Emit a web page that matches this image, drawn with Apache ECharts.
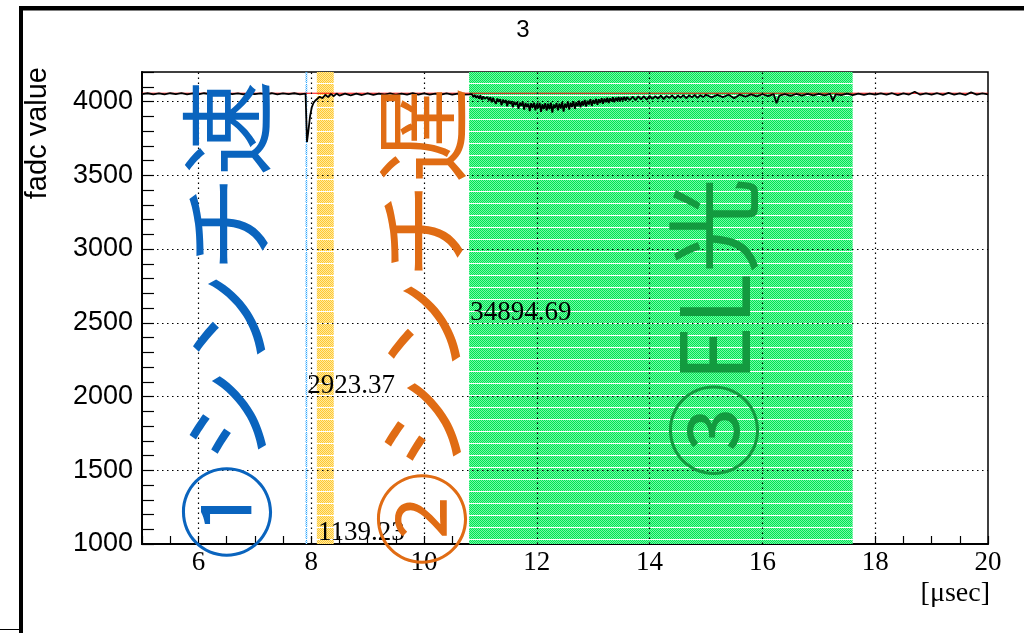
<!DOCTYPE html>
<html>
<head>
<meta charset="utf-8">
<script src="https://cdn.jsdelivr.net/npm/echarts@6/dist/echarts.min.js"></script>
<style>
  html, body { margin: 0; padding: 0; background: #fff; }
  #chart { width: 1024px; height: 633px; }
</style>
</head>
<body>
<div id="chart"></div>
<script>
// FADC waveform, channel 3: [time (µs), fadc value]
const waveform = [
  [5.0,4050],[5.1,4056],[5.2,4049],[5.3,4055],[5.4,4048],[5.5,4056],[5.6,4050],[5.7,4057],[5.8,4049],[5.9,4055],
  [6.0,4048],[6.1,4056],[6.2,4050],[6.3,4055],[6.4,4049],[6.5,4057],[6.6,4050],[6.7,4055],[6.8,4048],[6.9,4056],
  [7.0,4050],[7.1,4055],[7.2,4049],[7.3,4056],[7.4,4048],[7.5,4055],[7.6,4050],[7.7,4056],[7.8,4049],[7.9,4054],
  [7.92,4050],[7.925,3725],[7.95,3800],[7.98,3900],[8.01,3960],[8.04,3990],[8.07,4005],[8.1,4018],[8.15,4032],
  [8.2,4022],[8.25,4046],[8.3,4030],[8.35,4052],[8.4,4036],[8.45,4054],[8.5,4040],
  [8.6,4053],[8.7,4042],[8.8,4054],[8.9,4044],[9.0,4055],[9.1,4045],[9.2,4054],[9.3,4046],[9.4,4055],[9.5,4045],
  [9.6,4054],[9.7,4047],[9.8,4056],[9.9,4046],[10.0,4055],[10.1,4047],[10.2,4054],[10.3,4046],[10.4,4055],[10.5,4047],
  [10.6,4054],[10.7,4046],
  [10.800,4048],[10.825,4036],[10.850,4050],[10.875,4030],[10.900,4044],[10.925,4025],[10.950,4040],[10.975,4020],
  [11.000,4042],[11.025,4012],[11.050,4035],[11.075,4018],[11.100,4005],[11.125,4030],[11.150,4008],[11.175,4028],
  [11.200,3995],[11.225,4025],[11.250,4002],[11.275,3985],[11.300,4020],[11.325,3998],[11.350,4015],[11.375,3975],
  [11.400,4012],[11.425,3990],[11.450,4010],[11.475,3968],[11.500,4005],[11.525,3985],[11.550,4002],[11.575,3960],
  [11.600,3998],[11.625,3978],[11.650,3995],[11.675,3950],[11.700,3992],[11.725,3970],[11.750,3998],[11.775,3945],
  [11.800,3990],[11.825,3962],[11.850,3985],[11.875,3935],[11.900,3988],[11.925,3958],[11.950,3992],[11.975,3940],
  [12.000,3985],[12.025,3955],[12.050,3990],[12.075,3930],[12.100,3982],[12.125,3950],[12.150,3988],[12.175,3938],
  [12.200,3985],[12.225,3948],[12.250,3992],[12.275,3925],[12.300,3980],[12.325,3955],[12.350,3990],[12.375,3940],
  [12.400,3986],[12.425,3952],[12.450,3995],[12.475,3932],[12.500,3985],[12.525,3958],[12.550,3998],[12.575,3945],
  [12.600,3992],[12.625,3962],[12.650,4002],[12.675,3950],[12.700,3995],[12.725,3968],[12.750,4005],[12.775,3960],
  [12.800,4000],[12.825,3972],[12.850,4010],[12.875,3965],[12.900,4005],[12.925,3980],[12.950,4015],[12.975,3970],
  [13.000,4010],[13.025,3985],[13.050,4018],[13.075,3978],[13.100,4015],[13.125,3990],[13.150,4022],[13.175,3985],
  [13.200,4020],[13.225,3995],[13.250,4025],[13.275,3990],[13.300,4022],[13.325,4000],[13.350,4028],[13.375,3995],
  [13.400,4026],[13.425,4005],[13.450,4030],[13.475,4000],[13.500,4028],[13.525,4008],[13.550,4032],[13.575,4005],
  [13.600,4030],
  [13.65,4010],[13.70,4034],[13.75,4008],[13.80,4035],[13.85,4015],[13.90,4036],[13.95,4012],[14.00,4038],
  [14.05,4018],[14.10,4036],[14.15,4020],[14.20,4040],[14.25,4016],[14.30,4038],[14.35,4024],[14.40,4042],
  [14.45,4020],[14.50,4040],[14.55,4026],[14.60,4043],[14.65,4022],[14.70,4042],[14.75,4028],[14.80,4045],
  [14.85,4025],[14.90,4043],[14.95,4030],[15.00,4046],
  [15.1,4028],[15.2,4045],[15.3,4030],[15.4,4046],[15.5,4022],[15.6,4047],[15.7,4033],[15.8,4048],[15.9,4035],[16.0,4049],
  [16.1,4036],[16.2,4050],[16.25,3988],[16.3,4040],[16.4,4050],[16.5,4038],[16.6,4051],[16.7,4040],[16.8,4052],[16.9,4041],[17.0,4051],
  [17.1,4042],[17.2,4052],[17.25,4006],[17.3,4048],[17.4,4043],[17.5,4053],[17.6,4044],[17.7,4054],[17.8,4045],[17.9,4054],[18.0,4046],
  [18.1,4055],[18.2,4046],[18.3,4056],[18.4,4043],[18.5,4055],[18.6,4047],[18.7,4066],[18.8,4046],[18.9,4055],[19.0,4047],
  [19.1,4056],[19.2,4045],[19.3,4058],[19.4,4047],[19.5,4055],[19.6,4044],[19.7,4062],[19.8,4047],[19.9,4055],[20.0,4048]
];

// Pedestal level drawn across the full window
const pedestal = 4056;

// Integration windows (µs)
const fastWindow = [7.90, 7.93];
const slowWindow = [8.10, 8.40];
const elWindow = [10.80, 17.60];

// Integrals printed beside the windows
const noteTexts = ['2923.37', '1139.23', '34894.69'];
const noteTimes = [7.93, 8.12, 10.82];
const noteLevels = [2070, 1075, 2570];

// Axis ranges and grid positions
const xRange = [5, 20];
const yRange = [1000, 4200];
const xGrid = [6, 8, 10, 12, 14, 16, 18];
const yGrid = [1500, 2000, 2500, 3000, 3500, 4000];

// Region captions
const captions = ['①シンチ速', '②シンチ遅', '③EL光'];

// Checkered fill like the ROOT hatch styles
function checker(c1, c2, rows) {
  const cv = document.createElement('canvas');
  cv.width = 2; cv.height = rows;
  const ctx = cv.getContext('2d');
  ctx.fillStyle = '#ffffff'; ctx.fillRect(0, 0, 2, rows);
  ctx.fillStyle = c2; ctx.fillRect(0, 0, 2, rows - 1);
  ctx.fillStyle = c1;
  for (let y = 0; y < rows - 1; y++) {
    for (let x = 0; x < 2; x++) {
      if ((x + y) % 2 === 0) ctx.fillRect(x, y, 1, 1);
    }
  }
  return { image: cv, repeat: 'repeat' };
}

const chart = echarts.init(document.getElementById('chart'), null, { renderer: 'canvas' });

const sans = 'Liberation Sans, Arial, sans-serif';
const serif = 'Liberation Serif, Times New Roman, serif';
const cjk = 'Noto Sans CJK JP, sans-serif';

const option = {
  backgroundColor: '#fff',
  animation: false,
  grid: {
    left: 142, right: 36, top: 72, bottom: 89,
    show: true, borderColor: '#000', borderWidth: 1.5, backgroundColor: 'transparent'
  },
  xAxis: {
    type: 'value', min: xRange[0], max: xRange[1], interval: 0.5,
    axisLine: { show: true, onZero: false, lineStyle: { color: '#000', width: 2 } },
    axisTick: { show: true, inside: true, length: 8, lineStyle: { color: '#000', width: 1.2 } },
    axisLabel: {
      color: '#000', fontFamily: serif, fontSize: 27, margin: 5,
      formatter: v => (Math.abs(v % 2) < 1e-9 ? String(v) : '')
    },
    splitLine: { show: false }
  },
  yAxis: {
    type: 'value', min: yRange[0], max: yRange[1], interval: 500,
    axisLine: { show: true, onZero: false, lineStyle: { color: '#000', width: 2 } },
    axisTick: { show: true, inside: true, length: 12, lineStyle: { color: '#000', width: 1.2 } },
    minorTick: { show: true, splitNumber: 5, length: 12, lineStyle: { color: '#000', width: 1.2 } },
    axisLabel: {
      color: '#000', fontFamily: sans, fontSize: 27, margin: 9,
      formatter: v => (v % 500 === 0 ? String(v) : '')
    },
    splitLine: { show: false }
  },
  graphic: [
    // canvas frame
    { type: 'rect', shape: { x: 19, y: 6, width: 1005, height: 4.5 }, style: { fill: '#000' }, silent: true },
    { type: 'rect', shape: { x: 19, y: 6, width: 4, height: 627 }, style: { fill: '#000' }, silent: true },
    { type: 'line', shape: { x1: 0, y1: 629.5, x2: 19, y2: 629.5 }, style: { stroke: '#000', lineWidth: 1 }, silent: true },
    // title
    { type: 'text', x: 523, y: 30, style: { text: '3', font: '24px ' + sans, fill: '#000', align: 'center', verticalAlign: 'middle' }, silent: true },
    // axis titles
    { type: 'text', x: 38, y: 67, rotation: Math.PI / 2, style: { text: 'fadc value', font: '29px ' + sans, fill: '#000', align: 'right', verticalAlign: 'middle' }, silent: true },
    { type: 'text', x: 990, y: 594, style: { text: '[μsec]', font: '28px ' + serif, fill: '#000', align: 'right', verticalAlign: 'middle' }, silent: true },
    // region captions, reading bottom to top
    { type: 'text', x: 227, y: 320, rotation: Math.PI / 2, z: 20, style: { text: captions[0], font: '96px ' + cjk, fill: '#0a64be', align: 'center', verticalAlign: 'middle' }, silent: true },
    { type: 'text', x: 422, y: 327, rotation: Math.PI / 2, z: 20, style: { text: captions[1], font: '96px ' + cjk, fill: '#e06c14', align: 'center', verticalAlign: 'middle' }, silent: true },
    { type: 'text', x: 714, y: 328, rotation: Math.PI / 2, z: 20, style: { text: captions[2], font: '96px ' + cjk, fill: '#139a3f', align: 'center', verticalAlign: 'middle' }, silent: true }
  ],
  series: [
    {
      name: 'windows', type: 'line', data: [], z: 1, silent: true,
      markArea: {
        silent: true,
        data: [
          [{ xAxis: fastWindow[0], itemStyle: { color: checker('#2aa6ff', '#dff1ff', 12) } }, { xAxis: fastWindow[1] }],
          [{ xAxis: slowWindow[0], itemStyle: { color: checker('#ffc832', '#ffe9a0', 12) } }, { xAxis: slowWindow[1] }],
          [{ xAxis: elWindow[0], itemStyle: { color: checker('#00e650', '#74f6a8', 12) } }, { xAxis: elWindow[1] }]
        ]
      }
    },
    {
      name: 'gridlines', type: 'line', data: [], z: 2, silent: true,
      markLine: {
        silent: true, symbol: 'none', label: { show: false },
        lineStyle: { color: '#000', type: [1.5, 3.5], width: 1.2 },
        data: xGrid.map(v => ({ xAxis: v })).concat(yGrid.map(v => ({ yAxis: v })))
      }
    },
    {
      name: 'pedestal', type: 'line', z: 3, silent: true, showSymbol: false,
      data: [[xRange[0], pedestal], [xRange[1], pedestal]],
      lineStyle: { color: '#ff0000', width: 1 }
    },
    {
      name: 'fadc', type: 'line', z: 4, silent: true, showSymbol: false,
      data: waveform,
      lineStyle: { color: '#000', width: 1.8 }
    },
    {
      name: 'integrals', type: 'custom', z: 6, silent: true,
      data: noteTimes.map((t, i) => [t, noteLevels[i]]),
      renderItem: (params, api) => {
        const p = api.coord([api.value(0), api.value(1)]);
        return {
          type: 'text', x: p[0], y: p[1],
          style: {
            text: noteTexts[params.dataIndex], fill: '#000',
            font: '27px ' + serif, align: 'left', verticalAlign: 'middle'
          }
        };
      }
    }
  ]
};

chart.setOption(option);
</script>
</body>
</html>
